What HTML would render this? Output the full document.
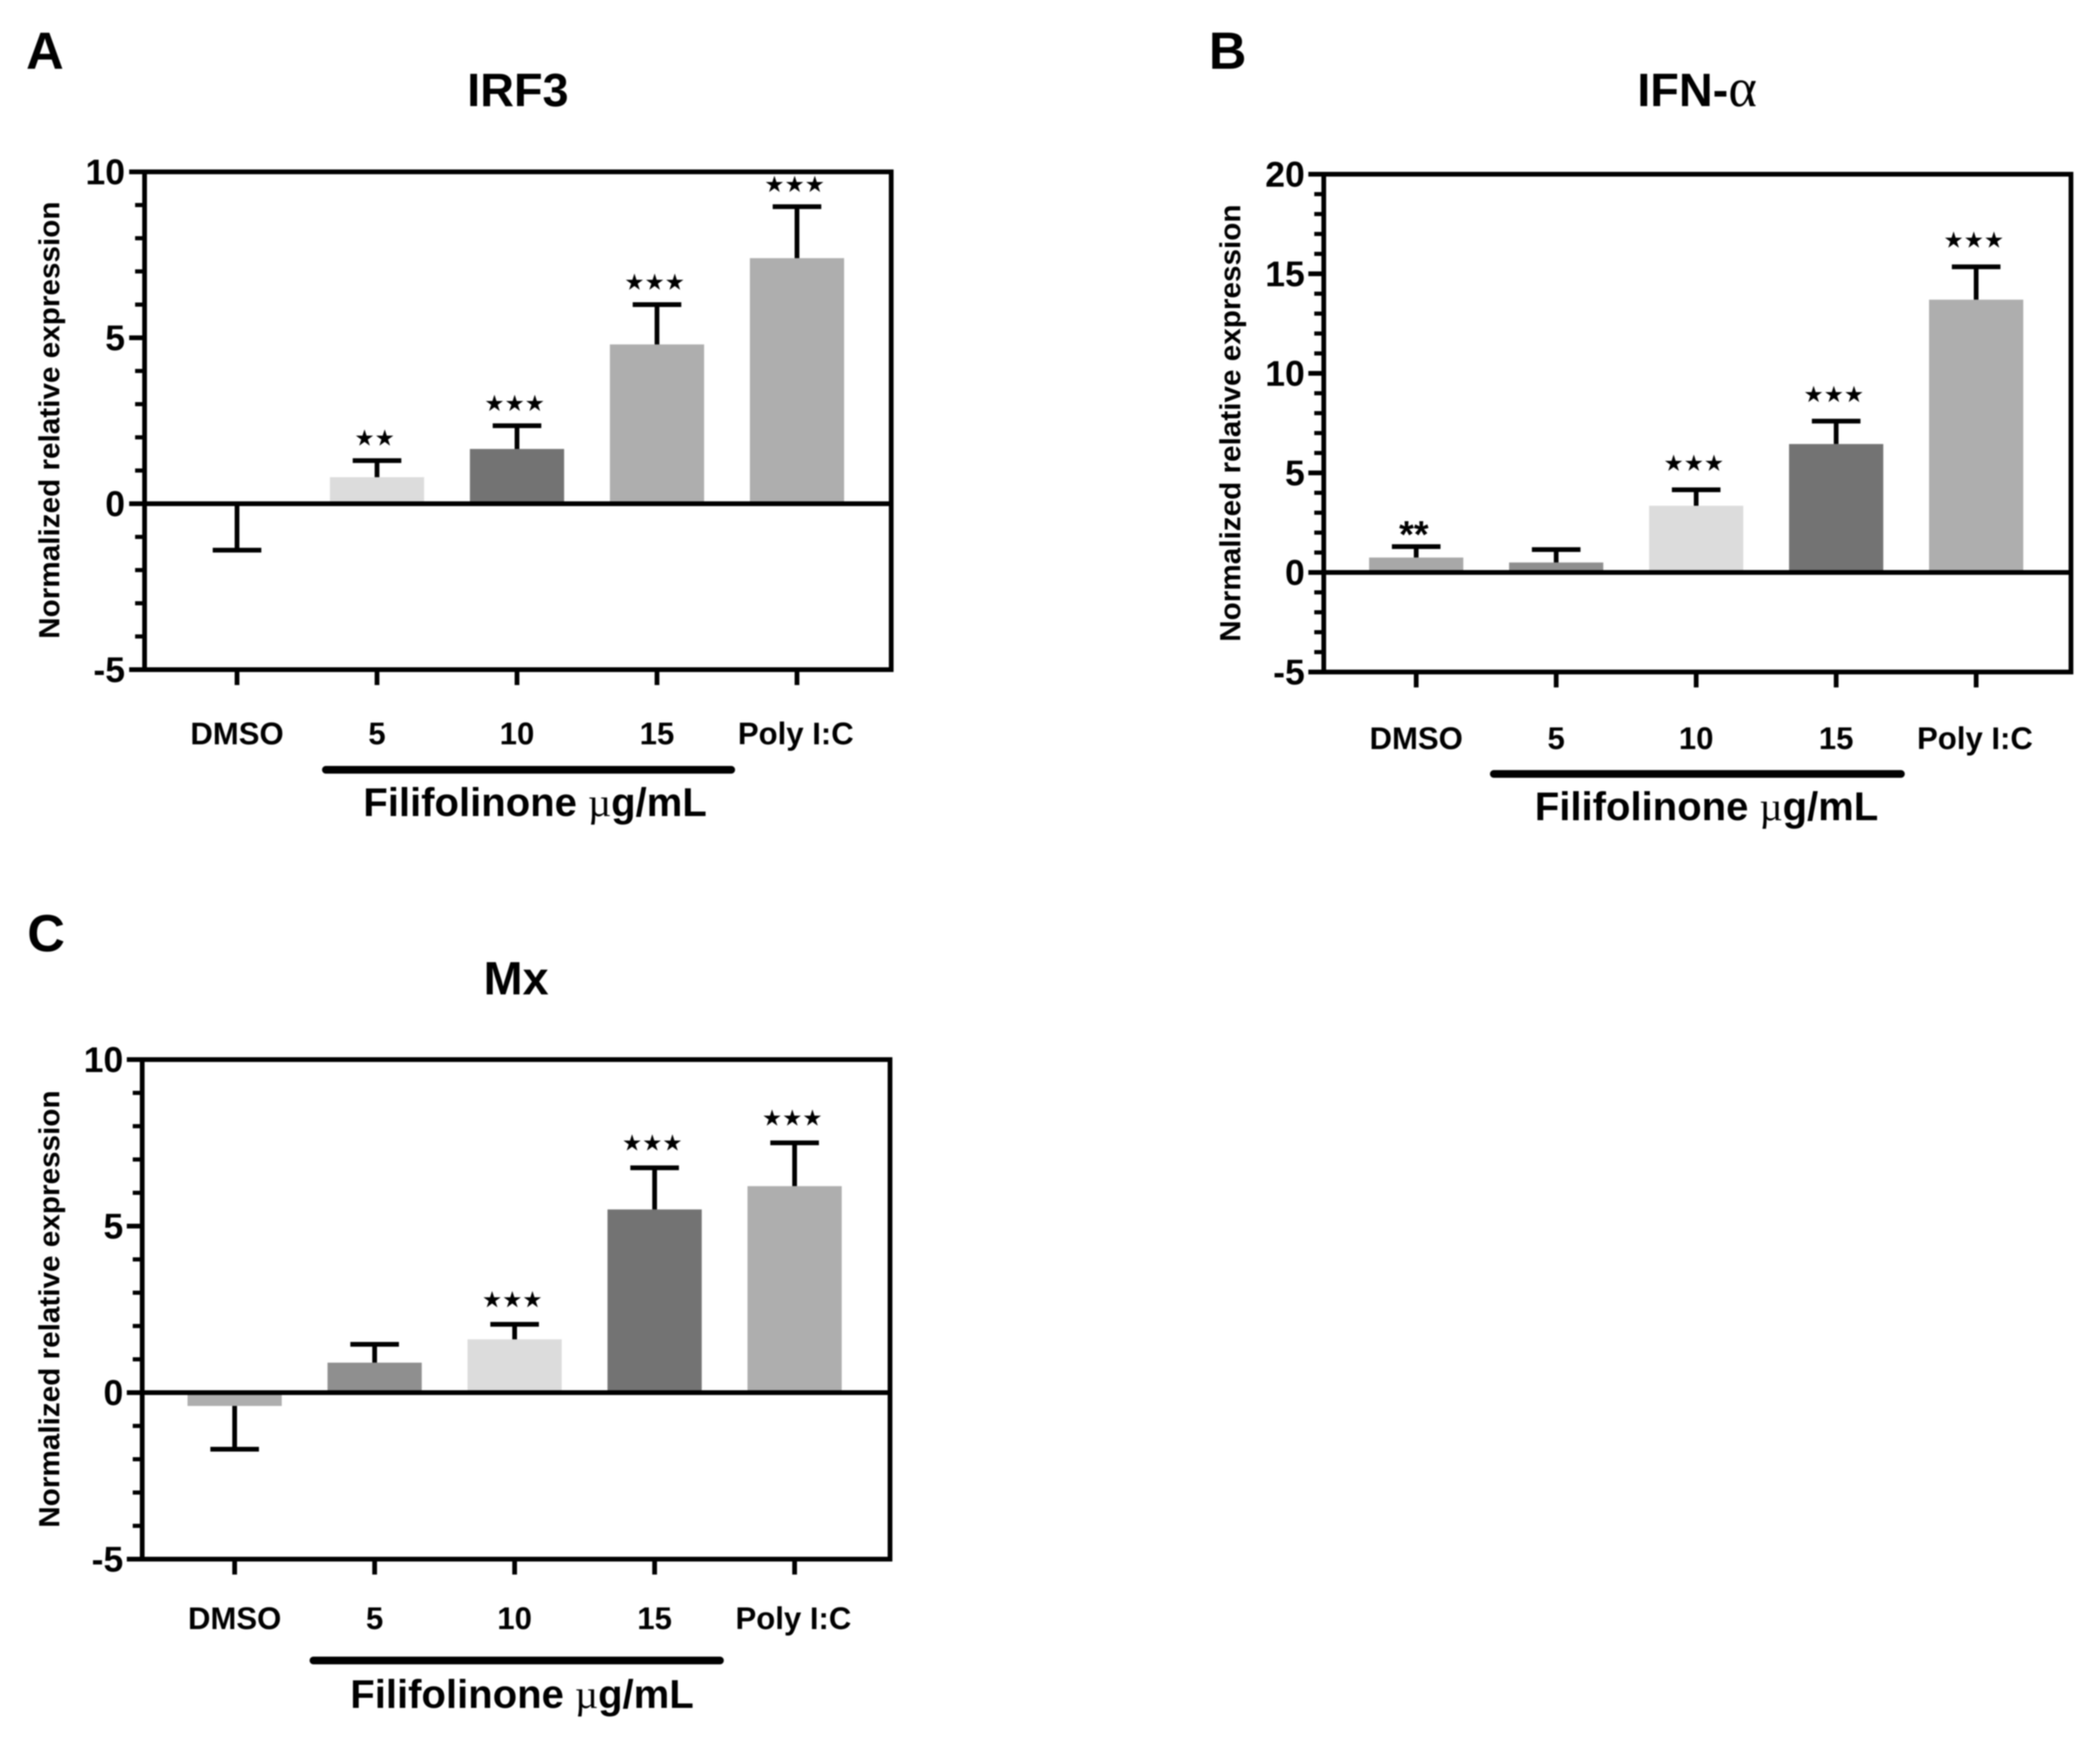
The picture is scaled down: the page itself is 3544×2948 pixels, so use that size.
<!DOCTYPE html>
<html lang="en">
<head>
<meta charset="utf-8">
<title>Filifolinone gene expression</title>
<style>
html,body{margin:0;padding:0;background:#fff;}
svg{display:block;filter:blur(1.1px);}
text{font-family:"Liberation Sans",sans-serif;font-weight:bold;fill:#000;}
</style>
</head>
<body>
<svg id="fig" xmlns="http://www.w3.org/2000/svg" width="3544" height="2948" viewBox="0 0 3544 2948"></svg>
<script>
const categories = ['DMSO', '5', '10', '15', 'Poly I:C'];
const yTicksAC = [-5, 0, 5, 10];
const yTicksB = [-5, 0, 5, 10, 15, 20];

const irf3Means = [-0.05, 0.8, 1.65, 4.8, 7.4];
const irf3Errors = [-1.4, 1.3, 2.35, 6.0, 8.95];
const irf3Sig = ['', '★★', '★★★', '★★★', '★★★'];
const irf3Fills = ['#aeaeae', '#dcdcdc', '#737373', '#aeaeae', '#aeaeae'];

const ifnMeans = [0.75, 0.5, 3.35, 6.45, 13.7];
const ifnErrors = [1.3, 1.15, 4.15, 7.6, 15.35];
const ifnSig = ['**', '', '★★★', '★★★', '★★★'];
const ifnFills = ['#a8a8a8', '#8f8f8f', '#dcdcdc', '#737373', '#aeaeae'];

const mxMeans = [-0.4, 0.9, 1.6, 5.5, 6.2];
const mxErrors = [-1.7, 1.45, 2.05, 6.75, 7.5];
const mxSig = ['', '', '★★★', '★★★', '★★★'];
const mxFills = ['#aeaeae', '#8f8f8f', '#dcdcdc', '#737373', '#aeaeae'];

const SVGNS = 'http://www.w3.org/2000/svg';
const root = document.getElementById('fig');

function mk(parent, tag, attrs, txt) {
  const el = document.createElementNS(SVGNS, tag);
  for (const k in attrs) el.setAttribute(k, attrs[k]);
  if (txt !== undefined) el.textContent = txt;
  parent.appendChild(el);
  return el;
}
function line(parent, x1, y1, x2, y2, w, cap) {
  return mk(parent, 'line', {x1, y1, x2, y2, stroke: '#000', 'stroke-width': w, 'stroke-linecap': cap || 'butt'});
}

function drawPanel(p) {
  const g = mk(root, 'g', {});
  
  

  const yMin = p.ticks[0], yMax = p.ticks[p.ticks.length - 1];
  const y = v => p.bottom + (v - yMin) / (yMax - yMin) * (p.top - p.bottom);
  const x = i => p.x0 + i * p.dx;

  const letter = mk(g, 'text', {x: p.letterX, y: p.letterY, 'font-size': 88}, p.letter);
  
  

  const title = mk(g, 'text', {x: p.titleX, y: p.titleY, 'font-size': 79, 'text-anchor': 'middle'});
  
  
  mk(title, 'tspan', {}, p.title);
  if (p.titleSym) {
    mk(title, 'tspan', {style: 'font-family:"Liberation Serif",serif;font-weight:normal', 'font-size': 92}, p.titleSym);
  }

  // bars
  p.means.forEach((m, i) => {
    const y0 = y(0), y1 = y(m);
    const bar = mk(g, 'rect', {x: x(i) - p.barW / 2, y: Math.min(y0, y1), width: p.barW, height: Math.abs(y1 - y0), fill: p.fills[i]});
    
    
  });

  // error bars
  p.errors.forEach((e, i) => {
    const eg = mk(g, 'g', {});
    
    
    line(eg, x(i), y(p.means[i]), x(i), y(e), 8);
    line(eg, x(i) - 41, y(e), x(i) + 41, y(e), 8);
  });

  // significance marks
  p.sig.forEach((s, i) => {
    if (!s) return;
    const isStar = s.indexOf('★') >= 0;
    const t = mk(g, 'text', {
      x: x(i) - 4,
      y: isStar ? y(p.errors[i]) - p.starGap : y(p.errors[i]) + 1,
      'font-size': isStar ? 38 : 64,
      'text-anchor': 'middle',
      style: isStar ? 'font-family:"DejaVu Sans",sans-serif;font-weight:normal' : ''
    }, s);
    
    
  });

  // frame
  const frame = mk(g, 'rect', {x: p.left, y: p.top, width: p.right - p.left, height: p.bottom - p.top, fill: 'none', stroke: '#000', 'stroke-width': 8});
  
  

  const zero = line(g, p.left, y(0), p.right, y(0), 8);
  
  

  // y ticks
  for (let v = yMin; v <= yMax; v += 1) {
    const major = p.ticks.indexOf(v) >= 0;
    const tk = line(g, p.left - (major ? 26 : 16), y(v), p.left, y(v), major ? 8 : 7);
    
    
  }
  p.ticks.forEach(v => {
    const t = mk(g, 'text', {x: p.left - p.labelGap, y: y(v) + 21, 'font-size': 60, 'text-anchor': 'end'}, String(v));
    
    
  });

  // x ticks + labels
  categories.forEach((c, i) => {
    const tk = line(g, x(i), p.bottom, x(i), p.bottom + 26, 8);
    
    
    const t = mk(g, 'text', {x: x(i) - (i === 4 ? 2 : 0), y: p.catY, 'font-size': 52.5, 'text-anchor': 'middle'}, c);
    
    
  });

  // y axis title
  const yt = mk(g, 'text', {
    x: 0, y: 0, 'font-size': 49, 'text-anchor': 'middle',
    textLength: 738, lengthAdjust: 'spacingAndGlyphs',
    transform: 'translate(' + p.yTitleX + ' ' + p.yTitleY + ') rotate(-90)'
  }, 'Normalized relative expression');
  
  

  // group bracket line
  const br = line(g, p.brX1, p.brY, p.brX2, p.brY, 13, 'round');
  
  

  // group label
  const gl = mk(g, 'text', {x: p.groupX, y: p.groupY, 'font-size': 67.6, 'text-anchor': 'middle'});
  
  
  mk(gl, 'tspan', {}, 'Filifolinone ');
  mk(gl, 'tspan', {style: 'font-family:"Liberation Serif",serif;font-weight:normal'}, 'µ');
  mk(gl, 'tspan', {}, 'g/mL');
}

drawPanel({
  id: 'irf3', letter: 'A', title: 'IRF3',
  means: irf3Means, errors: irf3Errors, sig: irf3Sig, fills: irf3Fills, ticks: yTicksAC,
  left: 244, right: 1504, top: 290, bottom: 1130, x0: 400, dx: 236.25, barW: 159, starGap: 25, labelGap: 33,
  letterX: 44, letterY: 116, titleX: 874, titleY: 179,
  catY: 1256, yTitleX: 100, yTitleY: 709,
  brX1: 550, brX2: 1234, brY: 1299, groupX: 903, groupY: 1377
});
drawPanel({
  id: 'ifn-alpha', letter: 'B', title: 'IFN-', titleSym: 'α',
  means: ifnMeans, errors: ifnErrors, sig: ifnSig, fills: ifnFills, ticks: yTicksB,
  left: 2234, right: 3495, top: 294, bottom: 1134, x0: 2390, dx: 236.25, barW: 159, starGap: 32, labelGap: 32,
  letterX: 2040, letterY: 116, titleX: 2864, titleY: 179,
  catY: 1264, yTitleX: 2093, yTitleY: 714,
  brX1: 2521, brX2: 3208, brY: 1306, groupX: 2880, groupY: 1384
});
drawPanel({
  id: 'mx', letter: 'C', title: 'Mx',
  means: mxMeans, errors: mxErrors, sig: mxSig, fills: mxFills, ticks: yTicksAC,
  left: 240, right: 1502, top: 1788, bottom: 2631, x0: 396, dx: 236.25, barW: 159, starGap: 29, labelGap: 32,
  letterX: 46, letterY: 1605, titleX: 871, titleY: 1678,
  catY: 2749, yTitleX: 100, yTitleY: 2209,
  brX1: 529, brX2: 1215, brY: 2802, groupX: 881, groupY: 2882
});
</script>
</body>
</html>
